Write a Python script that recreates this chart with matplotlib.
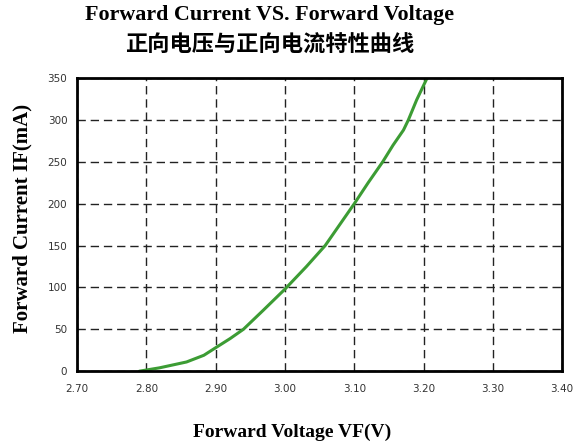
'''Forward current vs forward voltage curve.'''

import matplotlib
matplotlib.use('Agg')
import matplotlib.pyplot as plt

vf = [2.79, 2.819, 2.858, 2.883, 2.90, 2.921, 2.94, 2.969, 3.00, 3.031, 3.058, 3.079,
      3.10, 3.12, 3.141, 3.156, 3.171, 3.178, 3.19, 3.205]
if_ma = [0, 4, 11, 19, 28, 39, 50, 73, 98, 125, 150, 175,
         200, 225, 250, 270, 288, 300, 324, 350]

x_ticks = [2.70, 2.80, 2.90, 3.00, 3.10, 3.20, 3.30, 3.40]
y_ticks = [0, 50, 100, 150, 200, 250, 300, 350]

fig = plt.figure(figsize=(5.79, 4.44), dpi=100)
ax = fig.add_axes([0.133, 0.164, 0.838, 0.660])

ax.plot(vf, if_ma, color='#3c9c34', linewidth=2.2, solid_capstyle='round',
        solid_joinstyle='round')

ax.set_xlim(2.70, 3.40)
ax.set_ylim(0, 350)
ax.set_xticks(x_ticks)
ax.set_xticklabels(['%.2f' % t for t in x_ticks])
ax.set_yticks(y_ticks)
ax.tick_params(axis='x', length=0, labelsize=7.5, pad=9, colors='#333333')
ax.tick_params(axis='y', length=0, labelsize=7.5, pad=7, colors='#333333')
ax.grid(True, color='#222222', linestyle=(0, (6, 3.5)), linewidth=1.0)
for s in ax.spines.values():
  s.set_linewidth(2)
  s.set_color('black')

serif = ['Liberation Serif', 'DejaVu Serif']
fig.text(0.465, 0.966, 'Forward Current VS. Forward Voltage', ha='center', va='center',
         fontsize=15.8, fontweight='bold', family=serif)
fig.text(0.466, 0.898, '正向电压与正向电流特性曲线', ha='center', va='center',
         fontsize=16, fontweight='bold', family=['Noto Sans CJK SC', 'DejaVu Sans'])
fig.text(0.505, 0.027, 'Forward Voltage VF(V)', ha='center', va='center',
         fontsize=14, fontweight='bold', family=serif)
fig.text(0.038, 0.508, 'Forward Current IF(mA)', ha='center', va='center', rotation=90,
         fontsize=15, fontweight='bold', family=serif)

fig.savefig('out.png', dpi=100)
